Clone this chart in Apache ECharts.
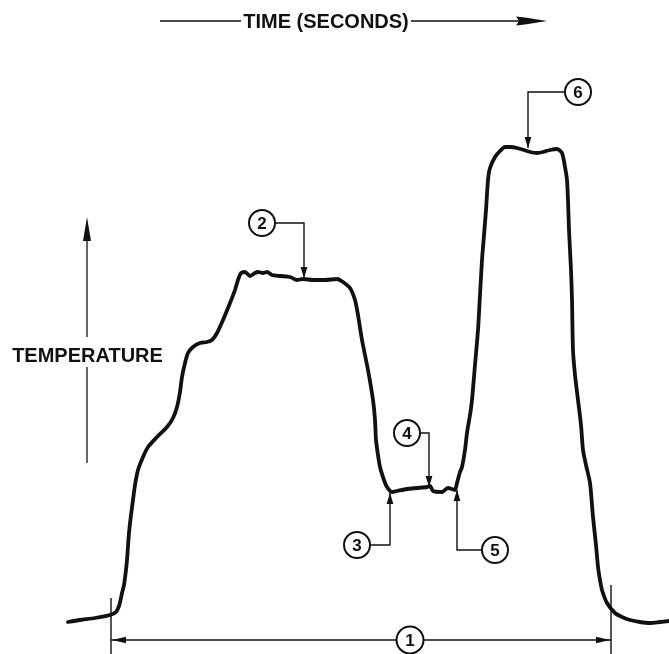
<!DOCTYPE html>
<html><head><meta charset="utf-8">
<script src="https://cdn.jsdelivr.net/npm/echarts@6/dist/echarts.min.js"></script>
<style>html,body{margin:0;padding:0;background:#fff}#c{width:669px;height:654px}</style>
</head><body><div id="c"></div>
<script>
// ---- data (time in arbitrary units, temperature in arbitrary units) ----
const timeValues = [68,80,95,110,116,119,121,122,124,126,127,129,131,133,135,138,143,148,157,167,173,177,180,182,185,188,193,200,207,212,217,223,230,235,238,241,245,250,255,258,263,267,272,280,290,297,303,313,325,337,343,350,355,358,362,368,373,375,376,378,380,384,387,392,397,407,417,427,430,433,442,448,452,455,457,460,462,465,467,470,472,475,478,480,482,484,486,488,490,495,500,505,511,517,524,530,537,543,550,557,562,565,567,568,569,571,572,573,575,578,581,583,586,590,593,596,598,600,602,607,615,622,630,640,650,660,669];
const temperatureValues = [32,34,36,39,42,48,56,61,69,84,94,121,139,154,169,184,197,207,217,227,236,247,262,277,291,301,307,311,312,314,321,334,351,364,374,381,382,378,381,382,381,382,379,378,377,374,375,374,374,375,372,366,354,339,314,284,254,234,214,199,187,174,167,162,163,165,166,167,168,163,162,166,165,164,171,182,187,204,221,239,254,289,324,359,394,419,444,474,486,497,503,507,507,506,504,502,501,502,504,505,501,487,474,454,424,384,354,304,279,254,229,204,189,171,137,109,87,74,64,51,41,37,34,32,31,32,33];
const xTitle = 'TIME (SECONDS)';
const yTitle = 'TEMPERATURE';
const spanLabel = '1';
const spanStart = 111, spanEnd = 611;
const calloutLabels = ['2','3','4','5','6'];
const calloutTargets = [[304,376],[390,161],[429,167],[457,164],[528,506]];

// ---- layout of annotations (data units) ----
const calloutLayout = {
  '2': {circle:[262,431], bend:[304,431]},
  '3': {circle:[357,109], bend:[390,109]},
  '4': {circle:[407,221], bend:[429,221]},
  '5': {circle:[495,104], bend:[457,104]},
  '6': {circle:[578,562], bend:[528,562]}
};

const chart = echarts.init(document.getElementById('c'), null, {renderer:'canvas'});
chart.setOption({
  animation:false,
  backgroundColor:'#fff',
  grid:{left:0,right:0,top:0,bottom:0},
  xAxis:{type:'value',min:0,max:669,show:false},
  yAxis:{type:'value',min:0,max:654,show:false},
  series:[{
    type:'line',
    data: timeValues.map((t,i)=>[t,temperatureValues[i]]),
    showSymbol:false,
    smooth:0.25,
    lineStyle:{color:'#111',width:3.8,cap:'round',join:'round'}
  }]
});

const P = (x,y)=>chart.convertToPixel({gridIndex:0},[x,y]);
const g = [];
const INK = '#111';
const FONT = '"Liberation Sans", Arial, sans-serif';
function line(pts,w){ g.push({type:'polyline',shape:{points:pts},style:{stroke:INK,lineWidth:w,fill:null},z:10}); }
function head(tip,from,L,W){
  const dx=tip[0]-from[0], dy=tip[1]-from[1], len=Math.hypot(dx,dy);
  const ux=dx/len, uy=dy/len, px=-uy, py=ux;
  const bx=tip[0]-ux*L, by=tip[1]-uy*L;
  g.push({type:'polygon',shape:{points:[tip,[bx+px*W,by+py*W],[bx-px*W,by-py*W]]},style:{fill:INK},z:11});
}
function circ(c,r,label){
  g.push({type:'circle',shape:{cx:c[0],cy:c[1],r:r},style:{fill:'#fff',stroke:INK,lineWidth:2},z:12});
  g.push({type:'text',x:c[0],y:c[1]+1,style:{text:label,font:'bold 17px '+FONT,fill:INK,align:'center',verticalAlign:'middle'},z:13});
}

// callouts 2..6
calloutLabels.forEach((lab,i)=>{
  const L = calloutLayout[lab];
  const c = P(L.circle[0],L.circle[1]);
  const b = P(L.bend[0],L.bend[1]);
  const t = P(calloutTargets[i][0],calloutTargets[i][1]);
  const r = 13;
  const sx = b[0] > c[0] ? c[0]+r : c[0]-r;
  line([[sx,c[1]],b,t],1.4);
  head(t,b,11,3.4);
  circ(c,r,lab);
});

// span (1) at bottom
const a0 = P(spanStart,14), a1 = P(spanEnd,14);
const vTopL = P(spanStart,56), vTopR = P(spanEnd,69), vBot = P(spanStart,0);
line([[a0[0],vTopL[1]],[a0[0],vBot[1]]],1.4);
line([[a1[0],vTopR[1]],[a1[0],vBot[1]]],1.4);
const mid = P(410,14);
line([a0,[mid[0]-14,mid[1]]],1.4);
line([[mid[0]+14,mid[1]],a1],1.4);
head([a0[0]+1,a0[1]],[a0[0]+30,a0[1]],14,3.2);
head([a1[0]-1,a1[1]],[a1[0]-30,a1[1]],14,3.2);
circ(mid,13.5,spanLabel);

// y-axis title with arrow
const yx = P(87,0)[0];
const yTop = P(0,437)[1], yHeadBase = P(0,414)[1];
line([[yx,P(0,191)[1]],[yx,P(0,287)[1]]],1.3);
line([[yx,P(0,317)[1]],[yx,yHeadBase]],1.3);
head([yx,yTop],[yx,yHeadBase+5],24,4);
const yt = P(87.5,298);
g.push({type:'text',x:yt[0],y:yt[1],style:{text:yTitle,font:'bold 20px '+FONT,fill:INK,align:'center',verticalAlign:'middle'},z:13});

// x-axis title with arrow
const ty = P(0,633)[1];
line([[P(160,0)[0],ty],[P(241,0)[0],ty]],1.3);
line([[P(411,0)[0],ty],[P(522,0)[0],ty]],1.3);
const hb = P(516,0)[0], ht = P(547,0)[0];
g.push({type:'polygon',shape:{points:[[hb,ty-4.5],[hb+9,ty-3.6],[ht,ty],[hb+9,ty+3.6],[hb,ty+4.5],[hb+3,ty]]},style:{fill:INK},z:11});
const tt = P(326,633);
g.push({type:'text',x:tt[0],y:tt[1]+1,style:{text:xTitle,font:'bold 20px '+FONT,fill:INK,align:'center',verticalAlign:'middle'},z:13});

chart.setOption({graphic:g});
</script></body></html>
